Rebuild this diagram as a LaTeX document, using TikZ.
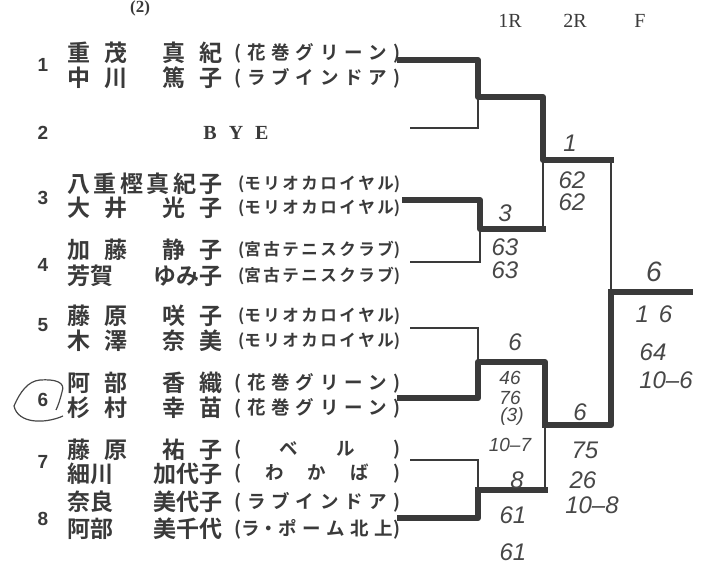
\documentclass[tikz,border=0pt]{standalone}
\usepackage{fontspec}
\setmainfont{Liberation Serif}
\setsansfont{Liberation Sans}
\newfontfamily\jp{Noto Sans CJK JP}[BoldFont={Noto Sans CJK JP Bold}]
\usetikzlibrary{positioning}
\definecolor{ink}{HTML}{3A3A3A}
\definecolor{pen}{HTML}{474747}
% name fields: spaced (2+2) and tight
\newcommand\nm[2]{\makebox[155pt][s]{\makebox[60pt][s]{#1}\hfill\makebox[60pt][s]{#2}}}
\newcommand\nmt[2]{\makebox[155pt][s]{#1\hfill#2}}
\newcommand\tm[1]{\makebox[166pt][s]{#1}}
\newcommand\tmc[1]{\makebox[162pt][s]{#1}}

\begin{document}
\begin{tikzpicture}[x=1pt,y=-1pt,
  name node/.style={anchor=west,inner sep=0pt,text=ink,font=\jp\bfseries\fontsize{23}{23}\selectfont},
  team node/.style={anchor=west,inner sep=0pt,text=ink,font=\jp\bfseries\fontsize{18.5}{18.5}\selectfont},
  club node/.style={team node,font=\jp\bfseries\fontsize{16.5}{16.5}\selectfont},
  seed node/.style={inner sep=0pt,text=ink,font=\sffamily\bfseries\fontsize{19}{19}\selectfont},
  head node/.style={inner sep=0pt,text=ink,font=\fontsize{20}{20}\selectfont},
  score node/.style={inner sep=0pt,text=pen,font=\sffamily\itshape\fontsize{24}{24}\selectfont},
  small score/.style={score node,font=\sffamily\itshape\fontsize{19}{19}\selectfont},
  win line/.style={line width=6pt,draw=ink,line cap=rect,line join=round},
  lose line/.style={line width=2pt,draw=ink}]
  \useasboundingbox (0,0) rectangle (716,567);

  \node[head node,font=\bfseries\fontsize{17}{17}\selectfont,anchor=north] (ttl) at (140,1) {(2)};
  \node[head node] (h1) at (510,21) {1R};
  \node[head node] (h2) at (575,21) {2R};
  \node[head node] (hf) at (640,21) {F};

  % draw seeds
  \node[seed node] (s1) at (43,65) {1};
  \node[seed node] (s2) at (43,133) {2};
  \node[seed node] (s3) at (43,198) {3};
  \node[seed node] (s4) at (43,265) {4};
  \node[seed node] (s5) at (43,325) {5};
  \node[seed node] (s6) at (43,400) {6};
  \node[seed node] (s7) at (43,462) {7};
  \node[seed node] (s8) at (43,519) {8};
  \draw[pen,line width=1.2pt] (63,416) .. controls (45,424) and (18,424) .. (14,406)
    .. controls (20,392) and (28,381) .. (40,380) .. controls (55,379) and (66,382) .. (62,392)
    .. controls (60,400) and (58,406) .. (56,410);

  % players
  \node[name node] (n1a) at (67,53) {\nm{重 茂}{真 紀}};
  \node[name node] (n1b) at (67,78) {\nm{中 川}{篤 子}};
  \node[head node,font=\bfseries\fontsize{20}{20}\selectfont] (bye) at (236,133) {B\hspace{12pt}Y\hspace{12pt}E};
  \node[name node] (n3a) at (67,184) {\makebox[155pt][s]{八 重 樫 真 紀 子}};
  \node[name node] (n3b) at (67,208) {\nm{大 井}{光 子}};
  \node[name node] (n4a) at (67,250) {\nm{加 藤}{静 子}};
  \node[name node] (n4b) at (67,276) {\nmt{芳賀}{ゆみ子}};
  \node[name node] (n5a) at (67,316) {\nm{藤 原}{咲 子}};
  \node[name node] (n5b) at (67,341) {\nm{木 澤}{奈 美}};
  \node[name node] (n6a) at (67,383) {\nm{阿 部}{香 織}};
  \node[name node] (n6b) at (67,408) {\nm{杉 村}{幸 苗}};
  \node[name node] (n7a) at (67,450) {\nm{藤 原}{祐 子}};
  \node[name node] (n7b) at (67,474) {\nmt{細川}{加代子}};
  \node[name node] (n8a) at (67,502) {\nmt{奈良}{美代子}};
  \node[name node] (n8b) at (67,529) {\nmt{阿部}{美千代}};

  % clubs
  \node[team node] (t1a) at (234,53) {\tm{( 花 巻 グ リ ー ン )}};
  \node[team node] (t1b) at (234,78) {\tm{( ラ ブ イ ン ド ア )}};
  \node[club node] (t3a) at (238,184) {\tmc{(モ リ オ カ ロ イ ヤ ル)}};
  \node[club node] (t3b) at (238,208) {\tmc{(モ リ オ カ ロ イ ヤ ル)}};
  \node[club node] (t4a) at (238,250) {\tmc{(宮 古 テ ニ ス ク ラ ブ)}};
  \node[club node] (t4b) at (238,276) {\tmc{(宮 古 テ ニ ス ク ラ ブ)}};
  \node[club node] (t5a) at (238,316) {\tmc{(モ リ オ カ ロ イ ヤ ル)}};
  \node[club node] (t5b) at (238,341) {\tmc{(モ リ オ カ ロ イ ヤ ル)}};
  \node[team node] (t6a) at (234,383) {\tm{( 花 巻 グ リ ー ン )}};
  \node[team node] (t6b) at (234,408) {\tm{( 花 巻 グ リ ー ン )}};
  \node[team node] (t7a) at (234,450) {\tm{( \hspace{10pt} ベ \hspace{10pt} ル \hspace{10pt} )}};
  \node[team node] (t7b) at (234,474) {\tm{( わ か ば )}};
  \node[team node] (t8a) at (234,502) {\tm{( ラ ブ イ ン ド ア )}};
  \node[team node] (t8b) at (234,529) {\tm{(ラ・ポ ー ム 北 上)}};

  % bracket points
  \coordinate (e1) at (400,60);
  \coordinate (e2) at (410,128);
  \coordinate (e3) at (405,200);
  \coordinate (e4) at (410,262);
  \coordinate (e5) at (410,328);
  \coordinate (e6) at (400,398);
  \coordinate (e7) at (410,460);
  \coordinate (e8) at (400,518);
  \coordinate (a1) at (478,97);
  \coordinate (a2) at (480,229);
  \coordinate (a3) at (478,362);
  \coordinate (a4) at (478,490);
  \coordinate (b1) at (543,160);
  \coordinate (b2) at (545,425);
  \coordinate (f) at (611,292);
  \coordinate (w) at (690,292);

  \draw[lose line] (e2) -| (a1);
  \draw[lose line] (e4) -| (a2);
  \draw[lose line] (a2 -| b1) -- (b1);
  \draw[lose line] (b1 -| f) -- (f);
  \draw[lose line] (e5) -| (a3);
  \draw[lose line] (b2) -- (b2 |- a4);
  \draw[lose line] (e7) -| (a4);
  \draw[win line] (e1) -| (a1) -| (b1) -- (b1 -| f);
  \draw[win line] (e3) -| (a2) -- (a2 -| b1);
  \draw[win line] (f) -- (w);
  \draw[win line] (f) |- (b2);
  \draw[win line] (e6) -| (a3) -| (b2);
  \draw[win line] (b2 |- a4) -- (a4);
  \draw[win line] (e8) -| (a4);

  % scores
  \node[score node] (r12) at (570,143) {1};
  \node[score node] (r12a) at (572,180) {62};
  \node[score node] (r12b) at (572,202) {62};
  \node[score node] (r34) at (505,213) {3};
  \node[score node] (r34a) at (505,247) {63};
  \node[score node] (r34b) at (505,270) {63};
  \node[score node,font=\sffamily\itshape\fontsize{28}{28}\selectfont] (rf) at (654,272) {6};
  \node[score node] (rfa) at (654,314) {1\hspace{10pt}6};
  \node[score node] (rfb) at (653,352) {64};
  \node[score node] (rfc) at (666,380) {10--6};
  \node[score node] (r56) at (515,342) {6};
  \node[small score] (r56a) at (510,378) {46};
  \node[small score] (r56b) at (510,398) {76};
  \node[small score] (r56c) at (512,417) {(3)};
  \node[small score] (r56d) at (510,445) {10--7};
  \node[score node] (r78) at (517,480) {8};
  \node[score node] (r78a) at (513,515) {61};
  \node[score node] (r78b) at (513,552) {61};
  \node[score node] (r58) at (580,412) {6};
  \node[score node] (r58a) at (585,450) {75};
  \node[score node] (r58b) at (583,480) {26};
  \node[score node] (r58c) at (592,505) {10--8};
\end{tikzpicture}
\end{document}
